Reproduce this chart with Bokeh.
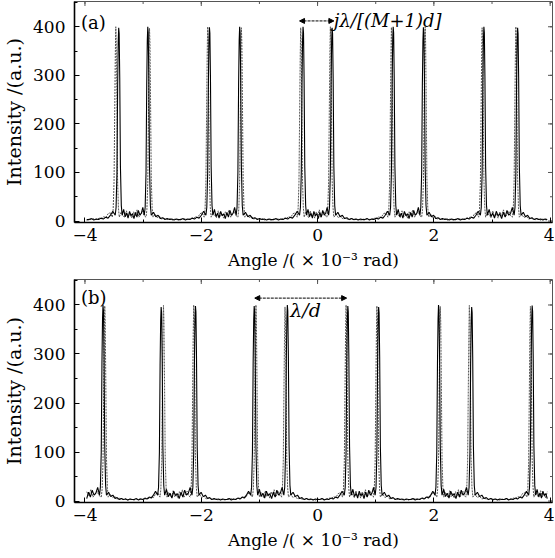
import math
import numpy as np
from bokeh.plotting import figure
from bokeh.layouts import column
from bokeh.models import (Range1d, FixedTicker, Label, Arrow,
                          NormalHead, ColumnDataSource)
from bokeh.embed import file_html
from bokeh.resources import INLINE

# ---------------- data ----------------
X_TICKS = [-4, -2, 0, 2, 4]
X_MINOR = [-4, -3, -2, -1, 0, 1, 2, 3, 4]
Y_TICKS = [0, 100, 200, 300, 400]
Y_MINOR = [0, 50, 100, 150, 200, 250, 300, 350, 400, 450]
X_RANGE = (-4.18, 4.04)
Y_RANGE = (-3, 452)

X_LABEL = "Angle /( \u00d7 10\u207b\u00b3 rad)"
Y_LABEL = "Intensity /(a.u.)"

# peak centres (x 10^-3 rad)
peaks_a_solid = [-3.42, -2.92, -1.86, -1.34, -0.25, 0.25, 1.30, 1.82, 2.86, 3.44]
peaks_a_dashed = [-3.47, -2.89, -1.89, -1.31, -0.29, 0.22, 1.27, 1.85, 2.83, 3.41]
peaks_b_solid = [-3.69, -2.69, -2.10, -1.09, -0.52, 0.52, 1.05, 2.08, 2.65, 3.69]
peaks_b_dashed = [-3.66, -2.65, -2.13, -1.06, -0.56, 0.49, 1.02, 2.11, 2.61, 3.66]

# peak heights
heights_a_solid = [398, 400, 399, 400, 400, 398, 400, 399, 400, 398]
heights_a_dashed = [400, 397, 400, 398, 398, 400, 399, 400, 398, 400]
heights_b_solid = [400, 396, 398, 398, 400, 398, 396, 400, 396, 399]
heights_b_dashed = [398, 399, 400, 400, 396, 400, 398, 397, 399, 397]

# peak profile: offsets (x 10^-3 rad) and fraction of peak height
peak_dx = [-0.06, -0.045, -0.03, -0.018, -0.008, 0.0, 0.008, 0.018, 0.03, 0.045, 0.06]
profile_solid = [0.03, 0.07, 0.25, 0.70, 0.93, 1.0, 0.97, 0.74, 0.28, 0.08, 0.03]
profile_dashed = [0.02, 0.06, 0.20, 0.57, 0.86, 1.0, 0.92, 0.62, 0.22, 0.07, 0.02]

# ripple between the two peaks of a pair (intensity)
inner_solid = [24, 9, 16, 6, 20, 11, 15, 5, 18, 8, 22, 12, 16, 28]
inner_dashed = [18, 12, 7, 21, 9, 15, 6, 19, 11, 23, 8, 14, 20, 11]
# low background between pairs (intensity)
outer_solid = [18, 9, 12, 5, 7, 3, 5, 3, 4, 2, 4, 3, 3, 5, 2, 4, 3, 6, 4, 8, 6, 12, 20]
outer_dashed = [14, 7, 10, 4, 6, 4, 3, 5, 2, 4, 3, 2, 4, 3, 5, 3, 4, 6, 5, 9, 7, 15, 17]

edges_a = ("outer", "outer")
edges_b = ("inner", "inner")
x_start, x_end = -3.97, 3.95


def build(peaks, heights, profile, inner, outer, edges):
    xs, ys = [], []
    half = max(abs(d) for d in peak_dx)
    bounds = [x_start] + list(peaks) + [x_end]
    nseg = len(bounds) - 1
    for i in range(nseg):
        a, b = bounds[i], bounds[i + 1]
        lo = a if i == 0 else a + half
        hi = b if i == nseg - 1 else b - half
        if i == 0:
            kind = edges[0]
        elif i == nseg - 1:
            kind = edges[1]
        else:
            kind = "inner" if (b - a) < 0.8 else "outer"
        tmpl = inner if kind == "inner" else outer
        if i == 0:
            vals = tmpl[len(tmpl) // 2:]
            pos = np.linspace(lo, hi, len(vals) + 1)[:-1]
        elif i == nseg - 1:
            vals = tmpl[:len(tmpl) // 2 + 1]
            pos = np.linspace(lo, hi, len(vals) + 1)[1:]
        else:
            vals = tmpl
            pos = np.linspace(lo, hi, len(vals) + 2)[1:-1]
        xs.extend(pos.tolist())
        ys.extend(vals)
        if i < len(peaks):
            c, h = peaks[i], heights[i]
            for d, f in zip(peak_dx, profile):
                xs.append(c + d)
                ys.append(max(f * h, 2))
    return dict(x=xs, y=ys)


FONT = "DejaVu Serif"


def make_panel(frame_h, b_top, b_bottom):
    p = figure(frame_width=478, frame_height=frame_h,
               x_range=Range1d(*X_RANGE), y_range=Range1d(*Y_RANGE),
               output_backend="svg", toolbar_location=None,
               min_border_left=65, min_border_right=2,
               min_border_top=b_top, min_border_bottom=b_bottom,
               background_fill_color="white", border_fill_color="white")
    p.grid.visible = False
    p.outline_line_color = "#555555"
    p.outline_line_width = 1

    p.xaxis.ticker = FixedTicker(ticks=X_TICKS, minor_ticks=X_MINOR)
    p.yaxis.ticker = FixedTicker(ticks=Y_TICKS, minor_ticks=Y_MINOR)
    p.xaxis.major_label_overrides = {-4: "\u22124", -2: "\u22122"}
    for ax in (p.xaxis[0], p.yaxis[0]):
        ax.major_tick_in = 5
        ax.major_tick_out = 0
        ax.minor_tick_in = 3
        ax.minor_tick_out = 0
        ax.axis_line_width = 1.6
        ax.axis_line_color = "black"
        ax.major_label_text_font = FONT
        ax.major_label_text_font_size = "17px"
        ax.major_label_text_color = "black"
        ax.axis_label_text_font = FONT
        ax.axis_label_text_font_style = "normal"
        ax.axis_label_text_color = "black"
    p.xaxis.axis_label = X_LABEL
    p.xaxis.axis_label_text_font_size = "17px"
    p.xaxis.major_label_standoff = 6
    p.xaxis.axis_label_standoff = 6
    p.yaxis.axis_label = Y_LABEL
    p.yaxis.axis_label_text_font_size = "19px"
    p.yaxis.major_label_standoff = 9
    p.yaxis.axis_label_standoff = 5

    # mirrored tick marks on the top and right borders (clipped to the frame)
    p.scatter(x=[X_RANGE[1]] * len(Y_TICKS), y=Y_TICKS, marker="dash", size=9,
              line_color="#555555", line_width=1)
    p.scatter(x=[X_RANGE[1]] * len(Y_MINOR), y=Y_MINOR, marker="dash", size=5,
              line_color="#555555", line_width=1)
    p.scatter(x=X_TICKS, y=[Y_RANGE[1]] * len(X_TICKS), marker="dash", size=9,
              angle=math.pi / 2, line_color="#555555", line_width=1)
    p.scatter(x=X_MINOR, y=[Y_RANGE[1]] * len(X_MINOR), marker="dash", size=5,
              angle=math.pi / 2, line_color="#555555", line_width=1)
    return p


pa = make_panel(221, 1, 56)
pb = make_panel(223, 1, 45)

for p, (ps, hs, pd, hd, edges) in (
        (pa, (peaks_a_solid, heights_a_solid, peaks_a_dashed, heights_a_dashed, edges_a)),
        (pb, (peaks_b_solid, heights_b_solid, peaks_b_dashed, heights_b_dashed, edges_b))):
    src_d = ColumnDataSource(build(pd, hd, profile_dashed, inner_dashed, outer_dashed, edges))
    src_s = ColumnDataSource(build(ps, hs, profile_solid, inner_solid, outer_solid, edges))
    p.line("x", "y", source=src_d, line_color="#555555", line_width=1, line_dash="2 1")
    p.line("x", "y", source=src_s, line_color="black", line_width=1.1)

# panel labels
pa.add_layout(Label(x=-4.07, y=409, text="(a)", text_font=FONT, text_font_size="18px",
                    text_baseline="middle", text_color="black"))
pb.add_layout(Label(x=-4.07, y=416, text="(b)", text_font=FONT, text_font_size="18px",
                    text_baseline="middle", text_color="black"))

# spacing annotations
pa.add_layout(Arrow(x_start=-0.31, y_start=412, x_end=0.28, y_end=412,
                    line_width=1, line_dash="3 1", line_color="black",
                    start=NormalHead(size=5, fill_color="black", line_color="black"),
                    end=NormalHead(size=5, fill_color="black", line_color="black")))
pa.add_layout(Label(x=0.28, y=413, text="j\u03bb/[(M+1)d]", text_font=FONT,
                    text_font_size="18px", text_font_style="italic",
                    text_baseline="middle", text_color="black"))
pb.add_layout(Arrow(x_start=-1.08, y_start=414, x_end=0.50, y_end=414,
                    line_width=1, line_dash="3 1", line_color="black",
                    start=NormalHead(size=5, fill_color="black", line_color="black"),
                    end=NormalHead(size=5, fill_color="black", line_color="black")))
pb.add_layout(Label(x=-0.47, y=390, text="\u03bb/d", text_font=FONT,
                    text_font_size="19px", text_font_style="italic",
                    text_baseline="middle", text_color="black"))

layout = column(pa, pb, spacing=0)
open("out.html", "w").write(file_html(layout, INLINE))
